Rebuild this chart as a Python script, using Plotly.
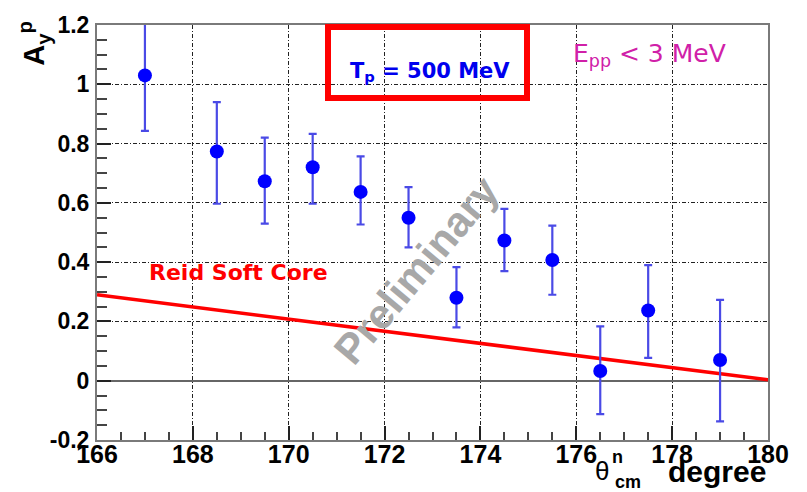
import plotly.graph_objects as go

# ---- data ----
theta = [167, 168.5, 169.5, 170.5, 171.5, 172.5, 173.5, 174.5, 175.5, 176.5, 177.5, 179]
ay = [1.03, 0.773, 0.673, 0.72, 0.637, 0.55, 0.28, 0.473, 0.407, 0.033, 0.237, 0.07]
err_plus = [0.177, 0.167, 0.147, 0.113, 0.12, 0.103, 0.103, 0.107, 0.116, 0.15, 0.153, 0.203]
err_minus = [0.187, 0.176, 0.143, 0.123, 0.11, 0.1, 0.1, 0.103, 0.117, 0.146, 0.16, 0.207]
rsc_x = [166, 180]
rsc_y = [0.29, 0.003]
x_ticks = [166, 168, 170, 172, 174, 176, 178, 180]
y_ticks = [-0.2, 0, 0.2, 0.4, 0.6, 0.8, 1, 1.2]
y_ticklabels = ["-0.2", "0", "0.2", "0.4", "0.6", "0.8", "1", "1.2"]

W, H = 807, 492
L, R, T, B = 97, 39, 19, 52
PW, PH = W - L - R, H - T - B


def px(x):
    return (x - L) / PW


def py(y):
    return (H - B - y) / PH


fig = go.Figure()
fig.add_trace(go.Scatter(
    x=rsc_x, y=rsc_y, mode="lines",
    line=dict(color="#ff0000", width=3.5), showlegend=False, hoverinfo="skip"))
fig.add_trace(go.Scatter(
    x=theta, y=ay, mode="markers",
    marker=dict(color="#0000ff", size=14, symbol="circle"),
    error_y=dict(type="data", symmetric=False, array=err_plus, arrayminus=err_minus,
                 color="#4a4ae6", thickness=2.2, width=4),
    showlegend=False))

axis_common = dict(
    showline=True, linecolor="#7a7a7a", linewidth=2, mirror=True,
    showgrid=True, gridcolor="#222222", gridwidth=1, griddash="4px,2px,1px,2px",
    ticks="inside", tickcolor="#222222", ticklen=14, tickwidth=1.5,
)

fig.update_layout(
    width=W, height=H,
    margin=dict(l=L, r=R, t=T, b=B),
    paper_bgcolor="white", plot_bgcolor="white",
    xaxis=dict(range=[166, 180], tickvals=x_ticks, ticktext=[str(v) for v in x_ticks],
               minor=dict(dtick=0.5, ticks="inside", ticklen=8, tickcolor="#444444", showgrid=False),
               zeroline=False, ticklabelstandoff=-9,
               tickfont=dict(family="Liberation Sans", size=25, color="#000000", weight="bold"),
               **axis_common),
    yaxis=dict(range=[-0.2, 1.2], tickvals=y_ticks, ticktext=y_ticklabels,
               minor=dict(dtick=0.05, ticks="inside", ticklen=10, tickcolor="#444444", showgrid=False),
               zeroline=True, zerolinecolor="#666666", zerolinewidth=1.5,
               ticklabelstandoff=1,
               tickfont=dict(family="Liberation Sans", size=23, color="#000000", weight="bold"),
               **axis_common),
)

# red box
fig.add_shape(type="rect", xref="paper", yref="paper",
              x0=px(328), x1=px(527), y0=py(93), y1=py(21),
              line=dict(color="#ff0000", width=6), fillcolor="rgba(0,0,0,0)")

ann = []
ann.append(dict(text="T<sub>p</sub> = 500 MeV", x=px(430), y=py(67), xref="paper", yref="paper",
                showarrow=False, xanchor="center", yanchor="middle",
                font=dict(family="DejaVu Sans", size=21, color="#0000ee", weight="bold")))
ann.append(dict(text="E<sub>pp</sub> < 3 MeV", x=px(571), y=py(49), xref="paper", yref="paper",
                showarrow=False, xanchor="left", yanchor="middle",
                font=dict(family="DejaVu Sans", size=25, color="#d020a8")))
ann.append(dict(text="Reid Soft Core", x=px(147), y=py(270), xref="paper", yref="paper",
                showarrow=False, xanchor="left", yanchor="middle",
                font=dict(family="DejaVu Sans", size=22, color="#ff0000", weight="bold")))
ann.append(dict(text="Preliminary", x=px(416), y=py(268), xref="paper", yref="paper",
                showarrow=False, xanchor="center", yanchor="middle", textangle=-50,
                font=dict(family="Liberation Sans", size=42, color="#a8a8a8", weight="bold")))
ann.append(dict(text="A<sub>y</sub><sup>p</sup>", x=px(34), y=py(38), xref="paper", yref="paper",
                showarrow=False, xanchor="center", yanchor="middle", textangle=-90,
                font=dict(family="Liberation Sans", size=29, color="#000000", weight="bold")))
ann.append(dict(text="θ", x=px(602), y=py(471), xref="paper", yref="paper",
                showarrow=False, xanchor="center", yanchor="middle",
                font=dict(family="Liberation Sans", size=26, color="#000000")))
ann.append(dict(text="n", x=px(617), y=py(457), xref="paper", yref="paper",
                showarrow=False, xanchor="center", yanchor="middle",
                font=dict(family="Liberation Sans", size=18, color="#000000", weight="bold")))
ann.append(dict(text="cm", x=px(628), y=py(483), xref="paper", yref="paper",
                showarrow=False, xanchor="center", yanchor="middle",
                font=dict(family="Liberation Sans", size=18, color="#000000", weight="bold")))
ann.append(dict(text="degree", x=px(768), y=py(472), xref="paper", yref="paper",
                showarrow=False, xanchor="right", yanchor="middle",
                font=dict(family="Liberation Sans", size=30, color="#000000", weight="bold")))
fig.update_layout(annotations=ann)

fig.write_html("out.html")
